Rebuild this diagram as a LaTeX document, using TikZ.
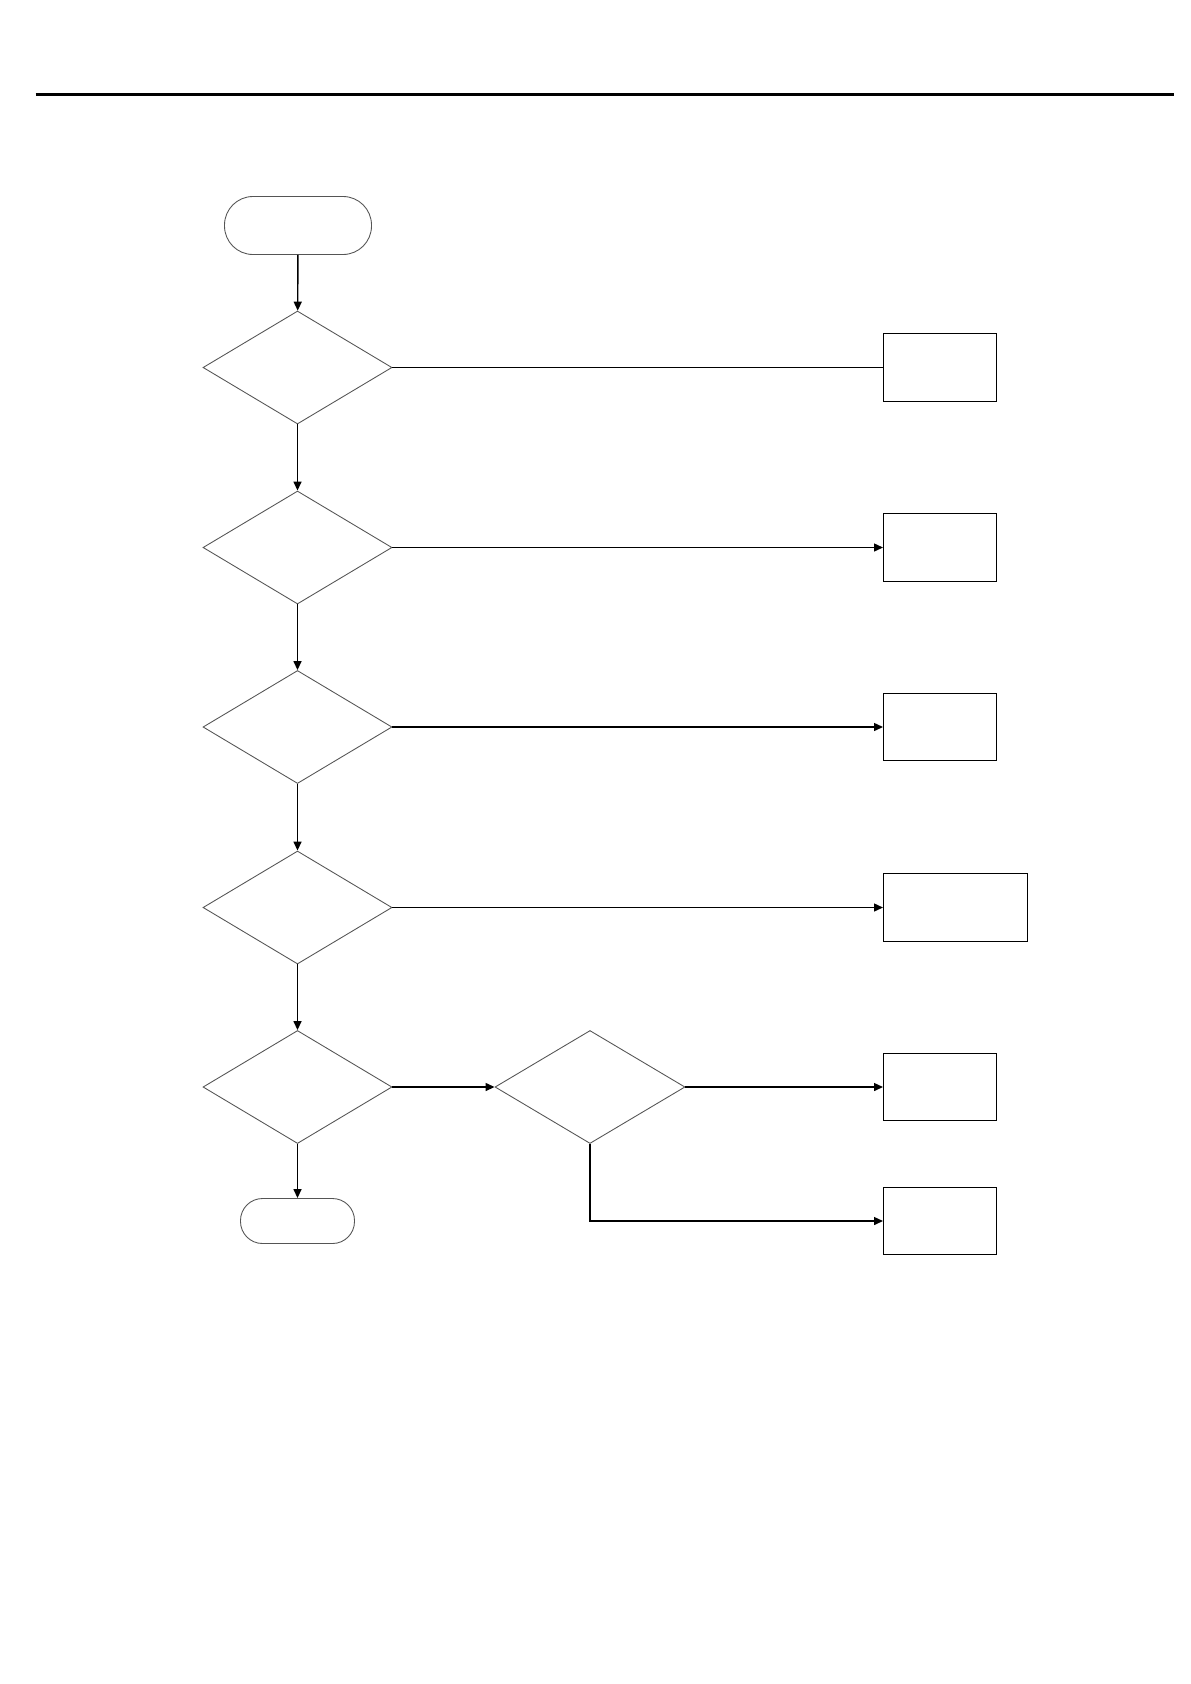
\documentclass[tikz,border=0pt]{standalone}
\usepackage{tikz}
\usetikzlibrary{arrows.meta,positioning,shapes.geometric}
\definecolor{INK}{HTML}{000000}
\definecolor{EDGE}{HTML}{555555}

\begin{document}
\begin{tikzpicture}[
  term/.style={rounded corners=0.57cm, draw=EDGE, line width=0.5pt, minimum width=2.94cm, minimum height=1.16cm, inner sep=0pt},
  check/.style={diamond, draw=EDGE, line width=0.5pt, minimum width=3.78cm, minimum height=2.26cm, inner sep=0pt},
  outbox/.style={rectangle, draw=INK, line width=0.8pt, minimum width=2.26cm, minimum height=1.35cm, inner sep=0pt, anchor=west},
  flow/.style={-{Triangle[length=1.8mm, width=1.6mm]}, draw=INK, line width=0.8pt},
  link/.style={draw=INK, line width=0.8pt}
]

\useasboundingbox (0,0) rectangle (23.8,-33.68);

% header rule
\coordinate (hl) at (0.71,-1.89);
\coordinate (hr) at (23.48,-1.89);
\draw[line width=1.7pt] (hl) -- (hr);

% main column
\node[term] (start) at (5.96,-4.51) {};
\node[check] (c1) at (5.95,-7.35) {};
\node[check] (c2) at (5.95,-10.95) {};
\node[check] (c3) at (5.95,-14.54) {};
\node[check] (c4) at (5.95,-18.15) {};
\node[check] (c5) at (5.95,-21.74) {};
\node[term, minimum width=2.28cm, minimum height=0.9cm, rounded corners=0.44cm] (stop) at (5.95,-24.42) {};

% side check
\node[check, minimum width=3.8cm] (c6) at (11.8,-21.74) {};

% result boxes
\node[outbox] (r1) at (17.66,-7.35) {};
\node[outbox] (r2) at (17.66,-10.95) {};
\node[outbox] (r3) at (17.66,-14.54) {};
\node[outbox, minimum width=2.88cm] (r4) at (17.66,-18.15) {};
\node[outbox] (r5) at (17.66,-21.74) {};
\node[outbox] (r6) at (17.66,-24.42) {};

% downward flow
\draw[flow] (start) -- (c1);
\draw[flow] (c1) -- (c2);
\draw[flow] (c2) -- (c3);
\draw[flow] (c3) -- (c4);
\draw[flow] (c4) -- (c5);
\draw[flow] (c5) -- (stop);

% branches to the right
\draw[link] (c1.east) -- (r1.west);
\draw[flow] (c2.east) -- (r2.west);
\draw[flow] (c3.east) -- (r3.west);
\draw[flow] (c4.east) -- (r4.west);
\draw[flow] (c5.east) -- (c6.west);
\draw[flow] (c6.east) -- (r5.west);
\draw[flow] (c6.south) |- (r6.west);

\end{tikzpicture}
\end{document}
